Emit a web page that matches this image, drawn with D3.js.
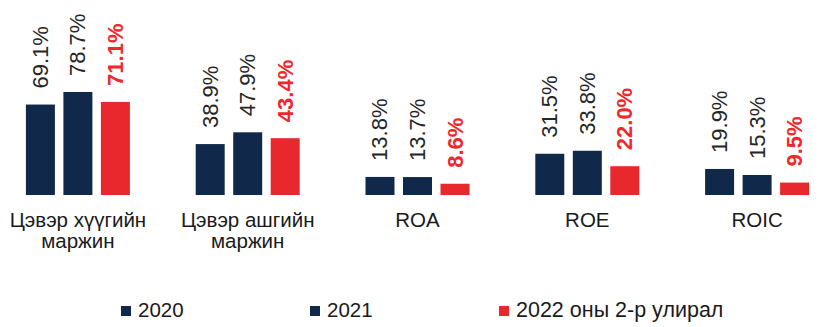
<!DOCTYPE html>
<html>
<head>
<meta charset="utf-8">
<script src="https://cdn.jsdelivr.net/npm/d3@7"></script>
<style>
  html, body { margin: 0; padding: 0; background: #ffffff; }
  svg { display: block; font-family: "Liberation Sans", Arial, sans-serif; }
</style>
</head>
<body>
<svg id="chart" width="819" height="327"></svg>
<script>
// Ratio categories (two-line labels split by "\n")
const categories = ["Цэвэр хүүгийн\nмаржин", "Цэвэр ашгийн\nмаржин", "ROA", "ROE", "ROIC"];
const seriesNames = ["2020", "2021", "2022 оны 2-р улирал"];
const values2020 = [69.1, 38.9, 13.8, 31.5, 19.9];
const values2021 = [78.7, 47.9, 13.7, 33.8, 15.3];
const values2022 = [71.1, 43.4, 8.6, 22.0, 9.5];

const seriesValues = [values2020, values2021, values2022];
const barColors = ["#10294b", "#10294b", "#e8282c"];
const labelColors = ["#262626", "#262626", "#f0282b"];
const labelWeights = ["normal", "normal", "bold"];

const svg = d3.select("#chart");

const x0 = d3.scaleBand().domain(d3.range(categories.length)).range([-7, 842]).padding(0);
const x1 = d3.scaleBand().domain(d3.range(seriesNames.length)).range([-52, 52]).paddingInner(0.227).paddingOuter(0);
const y = d3.scaleLinear().domain([0, 100]).range([195, 64.1]);

const rows = [];
categories.forEach((c, ci) => {
  seriesValues.forEach((vals, si) => rows.push({ ci, si, v: vals[ci] }));
});

const groups = svg.append("g");

// bars
groups.selectAll("rect.bar").data(rows).join("rect")
  .attr("class", "bar")
  .attr("x", d => x0(d.ci) + x0.bandwidth() / 2 + x1(d.si))
  .attr("width", x1.bandwidth())
  .attr("y", d => y(d.v))
  .attr("height", d => y(0) - y(d.v))
  .attr("fill", d => barColors[d.si]);

// rotated value labels
groups.selectAll("text.val").data(rows).join("text")
  .attr("class", "val")
  .attr("transform", d => {
    const cx = x0(d.ci) + x0.bandwidth() / 2 + x1(d.si) + x1.bandwidth() / 2;
    return `translate(${cx},${y(d.v) - 16}) rotate(-90)`;
  })
  .attr("text-anchor", "start")
  .attr("dominant-baseline", "central")
  .attr("font-size", 22)
  .attr("font-weight", d => labelWeights[d.si])
  .attr("fill", d => labelColors[d.si])
  .text(d => d.v.toFixed(1) + "%");

// category labels
const catG = svg.append("g");
categories.forEach((c, ci) => {
  const t = catG.append("text")
    .attr("x", x0(ci) + x0.bandwidth() / 2)
    .attr("y", 227)
    .attr("text-anchor", "middle")
    .attr("font-size", 20.5)
    .attr("fill", "#1a1a1a");
  c.split("\n").forEach((line, li) => {
    t.append("tspan")
      .attr("x", x0(ci) + x0.bandwidth() / 2)
      .attr("dy", li === 0 ? 0 : 21)
      .text(line);
  });
});

// legend
const legendX = [121, 310, 499];
const legend = svg.append("g");
seriesNames.forEach((name, si) => {
  legend.append("rect")
    .attr("x", legendX[si])
    .attr("y", 306)
    .attr("width", 10)
    .attr("height", 10)
    .attr("fill", barColors[si]);
  legend.append("text")
    .attr("x", legendX[si] + 17)
    .attr("y", 317)
    .attr("font-size", si === 2 ? 21.5 : 20.5)
    .attr("fill", "#1a1a1a")
    .text(name);
});
</script>
</body>
</html>
